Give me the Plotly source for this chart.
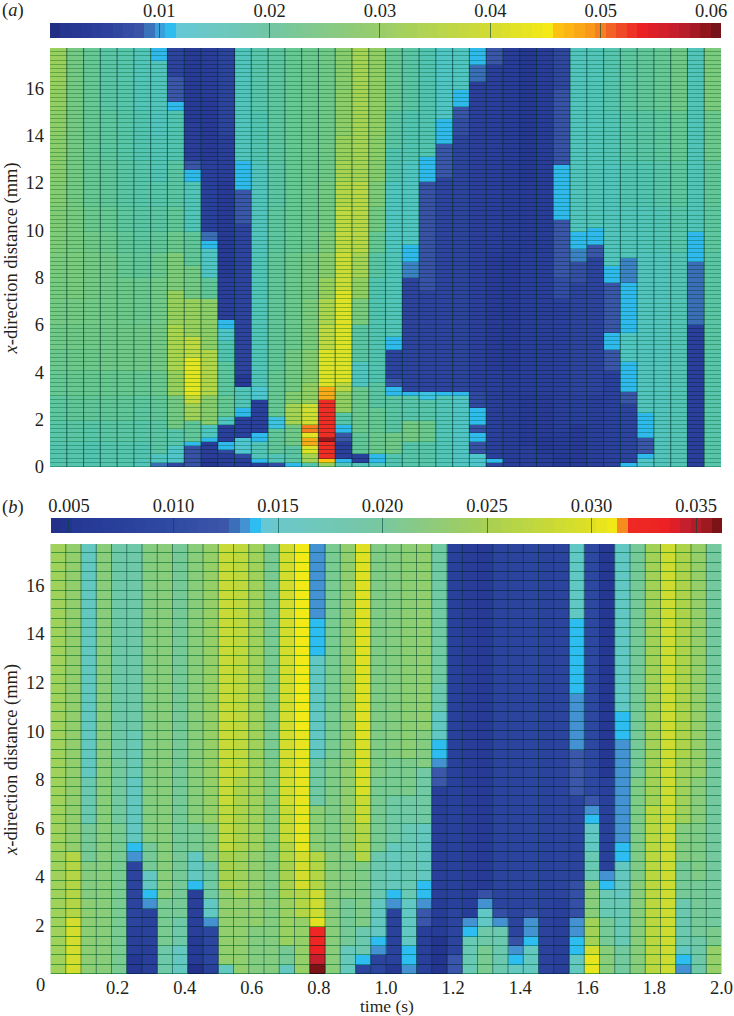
import plotly.graph_objects as go

FONT = "Times New Roman, Liberation Serif, Times, serif"
INK = "#231f20"
W, H = 734, 1016
TOP = 17.7
A_ROWS = 100
B_ROWS = 46
TIME_END = 2.0
LEVELS = 64
FONT_SIZE = 18.5

# Panel (a): each column is listed bottom to top as (upper edge in mm, value)
a00=[(1,.0165),(2,.0175),(3,.019),(4,.021),(5,.022),(6,.023),(7,.024),(8,.0245),(9,.025),(10,.026),(11,.0265),(12,.027),(13,.028),(14,.0285),(15,.029),(16,.03),(18,.031)]
a01=[(1,.0165),(2,.018),(3,.02),(4,.0215),(5,.0225),(6,.023),(7,.024),(9,.025),(11,.0245),(18,.024)]
a02=[(1,.016),(2,.0175),(3,.02),(4,.0215),(5,.0225),(6,.023),(7,.0235),(9,.024),(10,.023),(11,.022),(13,.021),(18,.021)]
a03=[(1,.0165),(2,.018),(3,.02),(4,.0215),(6,.023),(9,.023),(10,.022),(11,.021),(13,.02),(15,.019),(18,.018)]
a04=[(1,.0165),(2,.018),(3,.02),(4,.0215),(6,.023),(8,.0225),(9,.021),(10,.02),(11,.019),(13,.018),(15,.0175),(18,.017)]
a05=[(.3,.015),(1,.016),(2,.0175),(3,.019),(4,.021),(6,.023),(8,.022),(9,.02),(10,.019),(11,.018),(13,.017),(15,.016),(18,.015)]
a06=[(.2,.009),(.5,.014),(2,.018),(3,.02),(4,.022),(6,.024),(8,.0235),(9,.022),(10,.02),(11,.0185),(12,.017),(14,.0155),(17.25,.0145),(18,.0105)]
a07=[(.2,.006),(.8,.013),(1.6,.017),(3,.024),(4,.031),(6,.034),(7.5,.031),(9,.026),(10,.022),(11,.02),(13,.018),(15,.016),(15.4,.0105),(16.4,.0085),(18,.0055)]
a08=[(.85,.008),(1.15,.0105),(2,.02),(2.6,.032),(3,.038),(4.6,.043),(5.5,.037),(7,.031),(8.5,.024),(10,.02),(12,.015),(12.5,.0105),(13,.0085),(14.5,.0045),(18,.0035)]
a09=[(.3,.002),(1.1,.004),(1.3,.0105),(1.8,.014),(3,.028),(5,.035),(7,.029),(8,.02),(9.2,.0135),(9.5,.0105),(9.9,.009),(13,.005),(15.5,.003),(18,.004)]
a10=[(.6,.004),(.75,.0065),(1.1,.0105),(1.85,.005),(2.2,.014),(3,.021),(4.5,.019),(5.3,.016),(5.8,.013),(6.2,.0105),(8,.0045),(12,.003),(14,.0045),(18,.0055)]
a11=[(.4,.004),(.55,.0065),(1.2,.012),(2.2,.005),(2.4,.0105),(3.3,.015),(3.9,.003),(10.2,.0055),(11.6,.0085),(12.9,.0105),(18,.0145)]
a12=[(.2,.004),(.4,.0105),(1.1,.015),(1.4,.0105),(2.9,.005),(3.3,.012),(9,.015),(13,.0145),(15,.016),(18,.017)]
a13=[(.15,.007),(.6,.015),(1.6,.02),(2.2,.0115),(4,.021),(9,.02),(11,.019),(13,.018),(18,.019)]
a14=[(.15,.0105),(.8,.018),(1.7,.023),(2.6,.033),(3.2,.027),(5,.024),(9,.022),(18,.021)]
a15=[(.15,.016),(.6,.033),(.9,.042),(1.2,.048),(1.5,.043),(1.75,.05),(2.6,.04),(3.5,.03),(5,.027),(7,.025),(9,.024),(18,.022)]
a16=[(.15,.03),(.4,.046),(1,.053),(1.25,.059),(2.8,.053),(3.4,.048),(5,.042),(6,.037),(7,.034),(8,.031),(9,.028),(10,.026),(12,.024),(18,.023)]
a17=[(.15,.015),(.3,.0105),(1,.0045),(1.4,.0085),(1.7,.0105),(2.3,.017),(3.2,.03),(3.6,.036),(7.5,.042),(9,.039),(11,.037),(12,.035),(13,.033),(14,.031),(16,.029),(18,.028)]
a18=[(.15,.015),(.55,.005),(1.5,.02),(3.4,.022),(4.5,.014),(6,.018),(7,.025),(8,.03),(9,.033),(12,.036),(18,.033)]
a19=[(.15,.014),(.5,.0105),(1.5,.022),(2.5,.021),(3.5,.018),(5,.016),(8,.016),(9,.018),(10,.021),(11,.024),(12,.026),(13,.028),(14,.029),(18,.03)]
a20=[(.6,.016),(1.5,.023),(3,.018),(3.4,.0105),(3.8,.0085),(5,.0055),(5.5,.0105),(9,.015),(12,.014),(13.5,.016),(15,.018),(18,.021)]
a21=[(1,.017),(1.9,.024),(3,.017),(3.2,.0105),(8,.0055),(8.7,.0095),(9.3,.0105),(13,.014),(15,.016),(18,.018)]
a22=[(1,.017),(2,.022),(2.9,.017),(3.2,.0115),(7.5,.0055),(12,.008),(13.1,.0105),(18,.016)]
a23=[(3,.015),(3.2,.011),(12.3,.0055),(13.6,.0085),(14.7,.0105),(18,.0135)]
a24=[(3,.0135),(3.2,.0105),(13.9,.0055),(14.7,.007),(15.3,.0085),(15.85,.0105),(18,.014)]
a25=[(.45,.0125),(1.1,.008),(1.5,.0105),(1.7,.008),(2.5,.011),(3.2,.0065),(16.2,.0048),(17,.009),(18,.0105)]
a26=[(.1,.006),(.35,.0105),(2,.005),(4,.0045),(9,.0035),(17,.0045),(18,.0085)]
a27=[(4,.0042),(9,.0032),(18,.0036)]
a28=[(.8,.0045),(3,.0032),(9,.0042),(12,.0035),(18,.0025)]
a29=[(.6,.004),(1.3,.0028),(3,.0035),(9,.0045),(18,.0038)]
a30=[(.6,.0028),(1.4,.0035),(3,.0045),(7,.005),(8,.007),(10.5,.0085),(12.8,.0105),(15.9,.008),(18,.006)]
a31=[(.5,.003),(1.7,.0032),(3,.005),(7.8,.0055),(8.6,.0075),(9.2,.0095),(9.85,.0105),(18,.0145)]
a32=[(3,.0045),(8.8,.0055),(9.3,.0085),(10.1,.0105),(18,.015)]
a33=[(4.1,.0052),(4.9,.0085),(5.6,.0105),(7.8,.0085),(8.5,.0105),(13,.0145),(15,.0155),(18,.0165)]
a34=[(.15,.0105),(2.7,.0055),(3.2,.0085),(4.35,.0105),(5.6,.014),(7.8,.0105),(8.8,.0095),(11,.015),(13,.016),(15,.0175),(18,.019)]
a35=[(.3,.013),(.55,.0105),(1.3,.0085),(2.25,.0105),(9,.0145),(11,.015),(13,.016),(15,.018),(18,.02)]
a36=[(9,.0145),(11,.0155),(13,.017),(15,.019),(18,.021)]
a37=[(9,.0155),(11,.017),(13,.019),(15,.021),(18,.023)]
a38=[(6.1,.005),(8.6,.009),(10,.0105),(18,.015)]
a39=[(5,.017),(9,.018),(11,.019),(13,.02),(15,.022),(18,.025)]
A_COLUMNS=[a00,a01,a02,a03,a04,a05,a06,a07,a08,a09,a10,a11,a12,a13,a14,a15,a16,a17,a18,a19,
           a20,a21,a22,a23,a24,a25,a26,a27,a28,a29,a30,a31,a32,a33,a34,a35,a36,a37,a38,a39]

# Panel (b)
b00=[(18,.024)]
b01=[(2.4,.029),(5.1,.026),(18,.0225)]
b02=[(3,.022),(4.5,.021),(6,.019),(8,.017),(18,.0155)]
b03=[(18,.0215)]
b04=[(6,.0195),(9,.0185),(18,.0175)]
b05=[(.7,.0055),(2,.007),(4.55,.0085),(4.96,.0133),(5.3,.014),(8,.0155),(10,.0165),(18,.0175)]
b06=[(1,.007),(2.7,.008),(3.05,.0133),(3.45,.014),(4.2,.0155),(5.5,.019),(18,.021)]
b07=[(1.3,.0175),(3,.0195),(18,.0215)]
b08=[(1,.0155),(2.5,.0175),(18,.019)]
b09=[(.5,.0045),(1.5,.0058),(3.45,.0072),(3.86,.014),(5,.0155),(6,.0195),(18,.0215)]
b10=[(.5,.0075),(1.9,.0088),(2.3,.0133),(3.2,.0152),(4.6,.018),(6,.021),(18,.023)]
b11=[(.5,.0155),(3.5,.0225),(5,.025),(7,.027),(18,.0278)]
b12=[(3,.0225),(5,.024),(8,.0255),(18,.027)]
b13=[(2,.021),(5,.0225),(18,.024)]
b14=[(3,.021),(9,.0205),(18,.0195)]
b15=[(.5,.0155),(1.3,.019),(3,.0235),(4.5,.025),(5.5,.026),(7,.028),(18,.029)]
b16=[(2.4,.023),(3.5,.026),(5,.029),(10,.0305),(18,.031)]
b17=[(.37,.036),(.75,.0345),(1.12,.0335),(1.9,.0325),(2.4,.0302),(3.4,.0285),(5,.026),(7,.022),(9,.018),(13,.0152),(14.6,.014),(18,.0133)]
b18=[(5,.0215),(9,.0205),(18,.0195)]
b19=[(1.3,.016),(3,.019),(5,.021),(18,.0225)]
b20=[(.37,.0085),(.7,.014),(2,.017),(4.5,.0205),(6,.026),(7.5,.028),(9.5,.0295),(18,.03)]
b21=[(.78,.0085),(1.12,.0133),(1.53,.014),(3,.0155),(5,.017),(8,.0195),(18,.0205)]
b22=[(.5,.0055),(2.66,.0078),(3.07,.0133),(3.45,.014),(5.5,.016),(7.5,.018),(9,.0195),(18,.021)]
b23=[(.37,.0133),(1.12,.014),(3.2,.0152),(6,.0165),(7.5,.018),(9,.02),(18,.022)]
b24=[(1.95,.0072),(2.7,.0122),(3.05,.0133),(3.8,.014),(6,.0155),(8.5,.018),(10,.021),(18,.0225)]
b25=[(1.5,.005),(3,.0062),(7.7,.0072),(8.4,.0125),(8.8,.0133),(9.55,.014),(10.6,.0152),(12,.017),(18,.018)]
b26=[(.7,.0122),(2.8,.0085),(18,.0075)]
b27=[(1.53,.0165),(1.87,.014),(2.28,.0133),(18,.0065)]
b28=[(1.1,.0195),(1.95,.0175),(2.66,.015),(3.05,.0133),(3.45,.0115),(18,.0058)]
b29=[(1.85,.017),(2.28,.0133),(2.66,.011),(18,.0085)]
b30=[(.37,.0155),(.7,.014),(1.12,.0133),(1.55,.0115),(18,.0085)]
b31=[(1.12,.0155),(1.53,.014),(2.28,.0133),(2.66,.011),(18,.0088)]
b32=[(18,.0082)]
b33=[(3,.007),(18,.0085)]
b34=[(.7,.0155),(1.53,.014),(2.28,.0133),(3.72,.011),(7.3,.0085),(9.1,.0125),(11.5,.0133),(14.6,.014),(18,.015)]
b35=[(.7,.0305),(1.12,.029),(2.5,.0245),(3.7,.0215),(5,.0165),(6.05,.0152),(6.46,.014),(6.87,.0133),(7.3,.0122),(18,.0095)]
b36=[(1,.0215),(2.5,.019),(3.45,.0165),(3.8,.014),(4.2,.0133),(8,.0075),(18,.0055)]
b37=[(1,.0185),(3,.0165),(4.6,.0155),(5.4,.014),(9.55,.0133),(10.7,.014),(18,.0152)]
b38=[(4,.0215),(8,.0205),(18,.019)]
b39=[(7,.0268),(18,.0245)]
b40=[(18,.0285)]
b41=[(.37,.0133),(.7,.014),(1.2,.0155),(3,.017),(4.5,.019),(6,.021),(9,.024),(18,.0255)]
b42=[(1.5,.0175),(4,.019),(6,.0205),(8,.0215),(18,.023)]
b43=[(1,.023),(2,.02),(18,.0185)]
B_COLUMNS=[b00,b01,b02,b03,b04,b05,b06,b07,b08,b09,b10,b11,b12,b13,b14,b15,b16,b17,b18,b19,b20,b21,
           b22,b23,b24,b25,b26,b27,b28,b29,b30,b31,b32,b33,b34,b35,b36,b37,b38,b39,b40,b41,b42,b43]

A_STOPS=[0,.02,.08,.139,.145,.16,.172,.187,.188,.25,.328,.492,.656,.75,.755,.78,.81,.84,.88,.94,.98,1]
A_BAR_COLOURS=["#1d2a7d","#25348f","#2b409c","#3b55a8","#3a6ab5","#4090d0","#2fbdef","#2fbdef","#66c8d8","#6cc8c0","#72c6a5","#98cd6a",
               "#d3dc33","#f6eb14","#fdc410","#fbb016","#f7941d","#f15a29","#ed2024","#be1e2d","#8c1519","#66101a"]
A_FIELD_COLOURS=["#1d2a7d","#25348f","#2b409c","#3b55a8","#3a6ab5","#4090d0","#2fbdef","#2fbdef","#50c6d6","#52c4b6","#62c69a","#94ce62",
               "#d3dc33","#f6eb14","#fdc410","#fbb016","#f7941d","#f15a29","#ed2024","#be1e2d","#8c1519","#66101a"]
B_STOPS=[0,.05,.183,.266,.267,.282,.283,.297,.298,.312,.313,.339,.495,.651,.806,.8435,.845,.857,.858,.92,.95,.98,1]
B_BAR_COLOURS=["#232f87","#263a96","#2f4aa2","#3d57ab","#3b6fb7","#3b6fb7","#4492d1","#4492d1","#2ebdf0","#2ebdf0","#66c8d8","#6ac8cb",
               "#78c79f","#a8d053","#dfe024","#f6eb14","#f68b1f","#f68b1f","#ee2b24","#ed2024","#be1e2d","#991b1e","#6a0f13"]
B_FIELD_COLOURS=["#232f87","#263a96","#2f4aa2","#3d57ab","#3b6fb7","#3b6fb7","#4492d1","#4492d1","#2ebdf0","#2ebdf0","#62c8d8","#62c8c6",
               "#7ccb8c","#a8d24e","#dfe024","#f6eb14","#f68b1f","#f68b1f","#ee2b24","#ed2024","#be1e2d","#991b1e","#6a0f13"]
A_RANGE=[.0001,.0609]
B_RANGE=[.00414,.03624]
A_TICKS=[.01,.02,.03,.04,.05,.06]
A_TICKTEXT=["0.01","0.02","0.03","0.04","0.05","0.06"]
B_TICKS=[.005,.01,.015,.02,.025,.03,.035]
B_TICKTEXT=["0.005","0.010","0.015","0.020","0.025","0.030","0.035"]
Y_TICKS_A=[0,2,4,6,8,10,12,14,16]
Y_TICKS_B=[2,4,6,8,10,12,14,16]
X_TICKS_B=[.2,.4,.6,.8,1.0,1.2,1.4,1.6,1.8,2.0]
X_TICKTEXT_B=["0.2","0.4","0.6","0.8","1.0","1.2","1.4","1.6","1.8","2.0"]


def scale(stops, colours, fr=1, fg=1, fb=1):
    out = []
    for s, c in zip(stops, colours):
        r, g, b = int(c[1:3], 16), int(c[3:5], 16), int(c[5:7], 16)
        out.append([s, f"rgb({int(r*fr)},{int(g*fg)},{int(b*fb)})"])
    return out


def grid(columns, nrows):
    dy = TOP / nrows
    z = []
    for r in range(nrows):
        yc = (r + .5) * dy
        z.append([next(v for up, v in col if yc <= up) for col in columns])
    dx = TIME_END / len(columns)
    return [(i + .5) * dx for i in range(len(columns))], [(r + .5) * dy for r in range(nrows)], z, dx


def vlines(xa, ya, dx, ncols, colour, width):
    vx, vy = [], []
    for i in range(1, ncols):
        vx += [i * dx, i * dx, None]; vy += [0, TOP, None]
    return go.Scatter(x=vx, y=vy, mode="lines", xaxis=xa, yaxis=ya, hoverinfo="skip", showlegend=False,
                      line=dict(color=colour, width=width))


def field(fig, cols, rows, rng, top_scale, under_scale, xa, ya, vcolour, vwidth):
    xs, ys, z, dx = grid(cols, rows)
    fig.add_trace(go.Heatmap(x=xs, y=ys, z=z, zmin=rng[0], zmax=rng[1], colorscale=under_scale,
                             showscale=False, xaxis=xa, yaxis=ya))
    fig.add_trace(go.Heatmap(x=xs, y=ys, z=z, zmin=rng[0], zmax=rng[1], colorscale=top_scale, ygap=1,
                             showscale=False, xaxis=xa, yaxis=ya))
    fig.add_trace(vlines(xa, ya, dx, len(cols), vcolour, vwidth))


def scale_strip(rng, cs, xa, ya):
    step = (rng[1] - rng[0]) / LEVELS
    xs = [rng[0] + (i + .5) * step for i in range(LEVELS)]
    return go.Heatmap(x=xs, y=[0], z=[xs], zmin=rng[0], zmax=rng[1], colorscale=cs, showscale=False,
                      xaxis=xa, yaxis=ya, hoverinfo="skip")


tf = dict(family=FONT, size=FONT_SIZE, color=INK)
fig = go.Figure()
field(fig, A_COLUMNS, A_ROWS, A_RANGE, scale(A_STOPS, A_FIELD_COLOURS), scale(A_STOPS, A_FIELD_COLOURS, .62, .8, .72),
      "x", "y", "rgba(0,50,45,.6)", 1.1)
field(fig, B_COLUMNS, B_ROWS, B_RANGE, scale(B_STOPS, B_FIELD_COLOURS), scale(B_STOPS, B_FIELD_COLOURS, .4, .72, .62),
      "x2", "y2", "rgba(0,45,45,.5)", 1)
fig.add_trace(scale_strip(A_RANGE, scale(A_STOPS, A_BAR_COLOURS), "x3", "y3"))
fig.add_trace(scale_strip(B_RANGE, scale(B_STOPS, B_BAR_COLOURS), "x4", "y4"))

common_y = dict(range=[0, TOP], showgrid=False, zeroline=False, ticks="", tickfont=tf, tickmode="array",
                showline=False, ticklabelstandoff=5, automargin=False)
common_x = dict(range=[0, 2], showgrid=False, zeroline=False, ticks="", automargin=False)
strip_x = dict(side="top", showgrid=False, zeroline=False, ticks="inside", ticklen=15, tickwidth=1,
               tickcolor="rgba(0,70,60,.6)", tickfont=tf, tickmode="array", ticklabelstandoff=1, showline=False,
               automargin=False)
strip_y = dict(visible=False, range=[-.5, .5], automargin=False)


def note(text, x, y, angle=0, anchor="center", size=FONT_SIZE):
    return dict(text=text, x=x / W, y=1 - y / H, xref="paper", yref="paper", xanchor=anchor, yanchor="middle",
                showarrow=False, font=dict(family=FONT, size=size, color=INK), textangle=angle)


fig.update_layout(
    width=W, height=H, margin=dict(l=0, r=0, t=0, b=0, autoexpand=False), paper_bgcolor="white", plot_bgcolor="white",
    font=dict(family=FONT, color=INK), showlegend=False,
    xaxis=dict(domain=[50 / W, 721 / W], showticklabels=False, anchor="y", **common_x),
    yaxis=dict(domain=[1 - 467 / H, 1 - 48 / H], tickvals=Y_TICKS_A, anchor="x", **common_y),
    xaxis2=dict(domain=[50.5 / W, 721.5 / W], tickfont=tf, tickmode="array", tickvals=X_TICKS_B, ticktext=X_TICKTEXT_B,
                anchor="y2", ticklabelstandoff=0, **common_x),
    yaxis2=dict(domain=[1 - 974 / H, 1 - 544 / H], tickvals=Y_TICKS_B, anchor="x2", **common_y),
    xaxis3=dict(domain=[50 / W, 721 / W], range=A_RANGE, tickvals=A_TICKS, ticktext=A_TICKTEXT, anchor="y3", **strip_x),
    yaxis3=dict(domain=[1 - 38 / H, 1 - 23 / H], anchor="x3", **strip_y),
    xaxis4=dict(domain=[51 / W, 722 / W], range=B_RANGE, tickvals=B_TICKS, ticktext=B_TICKTEXT, anchor="y4", **strip_x),
    yaxis4=dict(domain=[1 - 533 / H, 1 - 518 / H], anchor="x4", **strip_y),
    annotations=[
        note("(<i>a</i>)", 0, 11, anchor="left"),
        note("(<i>b</i>)", 0, 507, anchor="left"),
        note("0", 40, 985),
        note("<i>x</i>-direction distance (mm)", 11, 258.5, angle=-90),
        note("<i>x</i>-direction distance (mm)", 11, 760, angle=-90),
        note("time (s)", 387, 1005.5, size=17.5),
    ],
)
fig.write_html("out.html", config={"displayModeBar": False}, post_script=["document.body.style.margin='0';"])
